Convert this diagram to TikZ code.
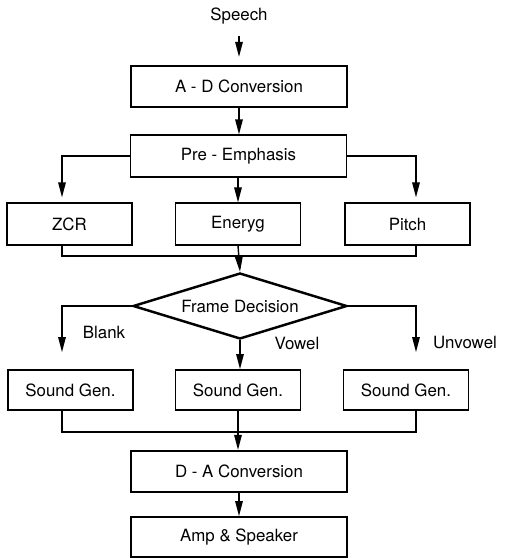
\documentclass[tikz,border=0pt]{standalone}
\usepackage{fontspec}
\setmainfont{TeX Gyre Heros}
\usetikzlibrary{arrows.meta,shapes.geometric}

\begin{document}
\begin{tikzpicture}[x=0.02cm,y=-0.02cm,
        box/.style={draw,line width=1pt,minimum height=0.83cm,inner sep=0pt,font=\fontsize{9.6}{11}\selectfont},
        wide/.style={box,minimum width=4.32cm},
        small/.style={box,minimum width=2.5cm},
        dec/.style={draw,shape=diamond,line width=1.4pt,aspect=3.24,inner sep=0pt,minimum width=4.28cm,minimum height=1.32cm,font=\fontsize{9.6}{11}\selectfont},
        lbl/.style={font=\fontsize{9.6}{11}\selectfont},
        link/.style={line width=0.8pt},
        flow/.style={link,-{Triangle[length=0.3cm,width=0.15cm]}}]
    \useasboundingbox (0,0) rectangle (507,558);
    \coordinate (lx) at (62,0);
    \coordinate (rx) at (416,0);
    \coordinate (bus1) at (238,256);
    \coordinate (bus2) at (238,432);
    \node[lbl] (speech) at (239,16) {Speech};
    \node[wide] (ad) at (239,86.5) {A - D Conversion};
    \node[wide] (pre) at (238.5,156) {Pre - Emphasis};
    \foreach \n/\x/\t in {zcr/69.5/ZCR,ener/238/Eneryg,pitch/407.5/Pitch}{
            \node[small] (\n) at (\x,224) {\t};
        }
    \node[dec] (fd) at (240,306) {Frame Decision};
    \foreach \n/\x in {snd1/70.5,snd2/238,snd3/406}{
            \node[small,minimum height=0.8cm] (\n) at (\x,390) {Sound Gen.};
        }
    \node[lbl] (blank) at (104,332) {Blank};
    \node[lbl] (vowel) at (297,343) {Vowel};
    \node[lbl] (unvowel) at (465,342) {Unvowel};
    \node[wide] (da) at (239,471.5) {D - A Conversion};
    \node[wide,minimum height=0.8cm] (amp) at (239,537) {Amp \& Speaker};
    % top chain
    \draw[flow,shorten <=0.12cm,shorten >=0.16cm] (speech.south) -- (ad.north);
    \draw[flow] (ad.south) -- (ad.south |- pre.north);
    \draw[flow,shorten >=0.1cm] (pre.west) -| (lx |- zcr.north);
    \draw[flow] (pre.south -| ener.north) -- (ener.north);
    \draw[flow,shorten >=0.1cm] (pre.east) -| (rx |- pitch.north);
    \draw[link] (lx |- zcr.south) |- (bus1) -| (rx |- pitch.south);
    \draw[flow] (ener.south) -- (fd.north);
    % decision
    \draw[flow,shorten >=0.34cm] (fd.west) -| (lx |- snd1.north);
    \draw[flow] (fd.south) -- (fd.south |- snd2.north);
    \draw[flow,shorten >=0.34cm] (fd.east) -| (rx |- snd3.north);
    \draw[link] (lx |- snd1.south) |- (bus2) -| (rx |- snd3.south);
    \draw[flow] (snd2.south) -- (snd2.south |- da.north);
    \draw[flow] (da.south) -- (amp.north);
\end{tikzpicture}
\end{document}
